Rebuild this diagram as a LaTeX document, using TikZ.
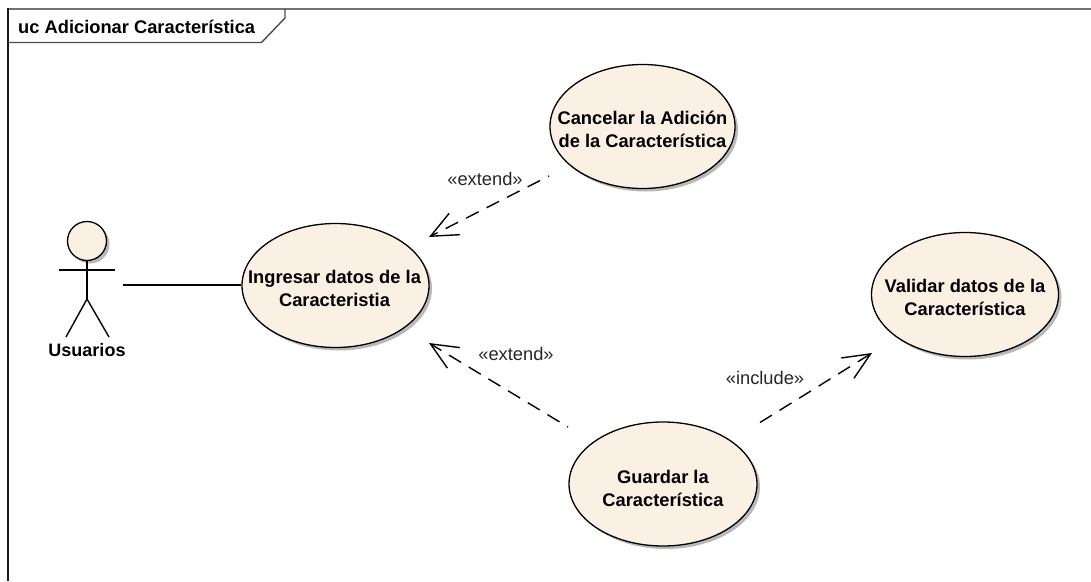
\documentclass[tikz,border=0pt]{standalone}
\usepackage{fontspec}
\setmainfont{Liberation Sans}
\usetikzlibrary{arrows.meta,shapes.geometric}
\definecolor{ucfill}{RGB}{250,240,228}
\definecolor{shade}{RGB}{185,185,185}
\tikzset{
 uc/.style={draw=black,line width=1.3pt,fill=ucfill,ellipse,minimum width=#1,minimum height=124pt,inner sep=0pt},
 uc/.default=187pt,
 uctext/.style={inner sep=0pt,align=center,font=\bfseries\fontsize{18.3}{23}\selectfont},
 lbl/.style={font=\fontsize{18.3}{22}\selectfont,text=black!85,inner sep=0pt},
 dep/.style={line width=1.4pt,dash pattern=on 14pt off 9pt,dash phase=13pt,-{Straight Barb[length=27pt,width=24pt,line width=1.4pt]}},
 ln/.style={line width=1.4pt,black},
 shadowfill/.style={fill=shade},
}
\begin{document}
\begin{tikzpicture}[x=1pt,y=-1pt]
\useasboundingbox (0,0) rectangle (1091,581);
\draw[line width=2pt,black!55] (1091,8.5) -- (8,8.5);
\draw[line width=1.5pt,black!90] (8,8) -- (8,581);
\draw[line width=1.4pt,black!70] (8,42.5) -- (261.5,42.5) -- (285,18) -- (285,9);
\node[anchor=west,inner sep=0pt,font=\bfseries\fontsize{18.3}{22}\selectfont] (title) at (18,27) {uc Adicionar Característica};
% shadows
\fill[shadowfill] (645.5,129.5) ellipse [x radius=92.5,y radius=62];
\fill[shadowfill] (338.5,288.5) ellipse [x radius=93.5,y radius=62];
\fill[shadowfill] (968,297.5) ellipse [x radius=93.5,y radius=62];
\fill[shadowfill] (666,487) ellipse [x radius=94,y radius=62];
\fill[shadowfill] (90,244) circle (19.5);
\node[uc=185pt] (cancel) at (642.5,126.5) {};
\node[uc] (ingresar) at (335.5,285.5) {};
\node[uc] (validar) at (965,294.5) {};
\node[uc=188pt] (guardar) at (663,484) {};
\node[uctext] (canceltxt) at (642.5,129.5) {Cancelar la Adición\\de la Característica};
\node[uctext] (ingresartxt) at (334.5,288.5) {Ingresar datos de la\\Caracteristia};
\node[uctext] (validartxt) at (965,297) {Validar datos de la\\Característica};
\node[uctext] (guardartxt) at (663,488) {Guardar la\\Característica};
% actor
\node[circle,draw=black,line width=1.3pt,fill=ucfill,minimum size=39pt,inner sep=0pt] (head) at (87,241) {};
\coordinate (hip) at (87,299);
\coordinate (armL) at (59,270);
\coordinate (armR) at (115,270);
\coordinate (legL) at (66,337);
\coordinate (legR) at (109,337);
\draw[ln] (head.south) -- (hip);
\draw[ln] (armL) -- (armR);
\draw[ln] (legL) -- (hip) -- (legR);
\node[inner sep=0pt,font=\bfseries\fontsize{18}{22}\selectfont] (actor) at (87,350) {Usuarios};
% connectors
\coordinate (actorEnd) at (123,285);
\draw[ln] (actorEnd) -- (ingresar.west |- actorEnd);
\coordinate (a1) at (549,176);
\coordinate (a2) at (429,237);
\draw[dep] (a1) -- (a2);
\coordinate (b1) at (568,427);
\coordinate (b2) at (429,343);
\draw[dep] (b1) -- (b2);
\coordinate (c1) at (760,422.5);
\coordinate (c2) at (872,353);
\draw[dep,dash phase=0pt] (c1) -- (c2);
\node[lbl] (e1) at (485,179) {«extend»};
\node[lbl] (e2) at (516,354) {«extend»};
\node[lbl] (i1) at (765,378) {«include»};
\end{tikzpicture}
\end{document}
